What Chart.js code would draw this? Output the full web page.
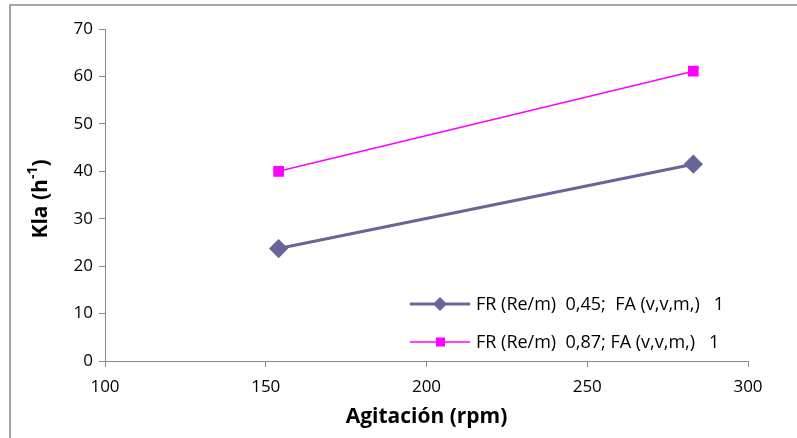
<!DOCTYPE html>
<html>
<head>
<meta charset="utf-8">
<script src="https://cdn.jsdelivr.net/npm/chart.js@4/dist/chart.umd.min.js"></script>
<style>
  html, body { margin: 0; padding: 0; background: #fff; }
  #wrap { width: 797px; height: 438px; position: relative; }
</style>
</head>
<body>
<div id="wrap"><canvas id="klaChart" width="797" height="438"></canvas></div>
<script>
const agitacion = [154, 283];
const klaFR045 = [23.7, 41.5];
const klaFR087 = [40, 61.1];
const seriesLabels = [
    'FR (Re/m)  0,45;  FA (v,v,m,)   1',
    'FR (Re/m)  0,87; FA (v,v,m,)   1'
];
const xTicks = [100, 150, 200, 250, 300];
const yTicks = [0, 10, 20, 30, 40, 50, 60, 70];

const toPoints = values => values.map((v, i) => ({ x: agitacion[i], y: v }));

// marco exterior del gráfico (solo se ven el borde izquierdo y superior)
const framePlugin = {
    id: 'frame',
    beforeDraw(chart) {
        const ctx = chart.ctx;
        ctx.save();
        ctx.fillStyle = '#fff';
        ctx.fillRect(0, 0, chart.width, chart.height);
        ctx.strokeStyle = '#8a8a8a';
        ctx.lineWidth = 1.5;
        ctx.strokeRect(10, 5, 900, 600);
        ctx.restore();
    }
};

// leyenda dentro del área del gráfico, abajo a la derecha
const legendPlugin = {
    id: 'insideLegend',
    afterDraw(chart) {
        const ctx = chart.ctx;
        const rows = [304, 342];
        ctx.save();
        ctx.font = '18px "Open Sans"';
        ctx.textBaseline = 'middle';
        chart.data.datasets.forEach((ds, i) => {
            const y = rows[i];
            ctx.strokeStyle = ds.borderColor;
            ctx.lineWidth = ds.borderWidth;
            ctx.beginPath();
            ctx.moveTo(410, y);
            ctx.lineTo(470, y);
            ctx.stroke();
            ctx.fillStyle = ds.pointBackgroundColor;
            ctx.beginPath();
            if (ds.pointStyle === 'rectRot') {
                const r = 7;
                ctx.moveTo(440, y - r);
                ctx.lineTo(440 + r, y);
                ctx.lineTo(440, y + r);
                ctx.lineTo(440 - r, y);
                ctx.closePath();
            } else {
                ctx.rect(436, y - 4.5, 9, 9);
            }
            ctx.fill();
            ctx.fillStyle = '#000';
            ctx.fillText(seriesLabels[i], 476, y + 1);
        });
        ctx.restore();
    }
};

// título del eje Y con superíndice
const yTitlePlugin = {
    id: 'yTitle',
    afterDraw(chart) {
        const ctx = chart.ctx;
        ctx.save();
        ctx.translate(41, 199);
        ctx.rotate(-Math.PI / 2);
        ctx.fillStyle = '#000';
        ctx.textBaseline = 'middle';
        const main = 'Kla (h';
        const sup = '-1';
        const end = ')';
        ctx.font = 'bold 21px "Open Sans"';
        const w1 = ctx.measureText(main).width;
        const w3 = ctx.measureText(end).width;
        ctx.font = 'bold 14px "Open Sans"';
        const w2 = ctx.measureText(sup).width;
        let x = -(w1 + w2 + w3) / 2;
        ctx.font = 'bold 21px "Open Sans"';
        ctx.fillText(main, x, 0);
        x += w1;
        ctx.font = 'bold 14px "Open Sans"';
        ctx.fillText(sup, x, -8);
        x += w2;
        ctx.font = 'bold 21px "Open Sans"';
        ctx.fillText(end, x, 0);
        ctx.restore();
    }
};

const ctx = document.getElementById('klaChart').getContext('2d');
new Chart(ctx, {
    type: 'line',
    data: {
        datasets: [{
            label: seriesLabels[0],
            data: toPoints(klaFR045),
            borderColor: '#666699',
            backgroundColor: '#666699',
            pointBackgroundColor: '#666699',
            pointBorderColor: '#666699',
            borderWidth: 3,
            pointStyle: 'rectRot',
            pointRadius: 7.5,
            pointHoverRadius: 7.5
        }, {
            label: seriesLabels[1],
            data: toPoints(klaFR087),
            borderColor: '#ff00ff',
            backgroundColor: '#ff00ff',
            pointBackgroundColor: '#ff00ff',
            pointBorderColor: '#ff00ff',
            borderWidth: 1.5,
            pointStyle: 'rect',
            pointRadius: 6.5,
            pointHoverRadius: 6.5
        }]
    },
    options: {
        responsive: false,
        animation: false,
        layout: { padding: { left: 0, right: 49, top: 29, bottom: 8 } },
        plugins: {
            legend: { display: false },
            tooltip: { enabled: false }
        },
        scales: {
            x: {
                type: 'linear',
                min: 100,
                max: 300,
                afterBuildTicks: axis => { axis.ticks = xTicks.map(v => ({ value: v })); },
                afterFit: axis => { axis.height = 69; },
                border: { color: '#888', width: 1 },
                grid: { drawOnChartArea: false, drawTicks: true, tickLength: 6, color: '#888' },
                ticks: {
                    color: '#000',
                    font: { family: 'Open Sans', size: 17 },
                    padding: 10
                },
                title: {
                    display: true,
                    text: 'Agitación (rpm)',
                    color: '#000',
                    font: { family: 'Open Sans', size: 21, weight: 'bold' },
                    padding: { top: 0, bottom: 0 }
                }
            },
            y: {
                min: 0,
                max: 70,
                afterBuildTicks: axis => { axis.ticks = yTicks.map(v => ({ value: v })); },
                afterFit: axis => { axis.width = 105; },
                border: { color: '#888', width: 1 },
                grid: { drawOnChartArea: false, drawTicks: true, tickLength: 6, color: '#888' },
                ticks: {
                    color: '#000',
                    font: { family: 'Open Sans', size: 17 },
                    padding: 6
                }
            }
        }
    },
    plugins: [framePlugin, legendPlugin, yTitlePlugin]
});
</script>
</body>
</html>
